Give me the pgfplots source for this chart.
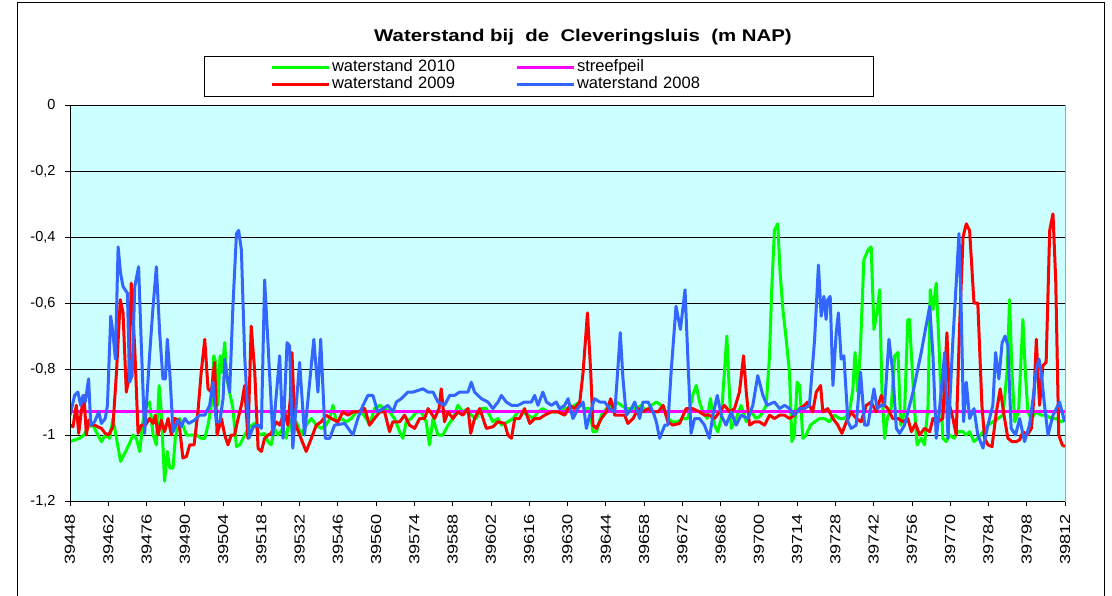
\documentclass[border=0pt]{standalone}
\usepackage{pgfplots}
\pgfplotsset{compat=1.18}
\usepackage{fontspec}
\setmainfont{Liberation Sans}
\definecolor{bgcyan}{HTML}{CCFFFF}
\definecolor{sgreen}{HTML}{00FF00}
\definecolor{sred}{HTML}{FF0000}
\definecolor{sblue}{HTML}{3366FF}
\definecolor{smag}{HTML}{FF00FF}
\begin{document}
\begin{tikzpicture}
\useasboundingbox (0pt,0pt) rectangle (1112pt,-596pt);
\fill[white] (0pt,0pt) rectangle (1112pt,-596pt);
\draw[black, line width=1pt] (17pt,-3pt) rectangle (1104pt,-620pt);
\node[font=\fontsize{17}{20}\selectfont\bfseries, xscale=1.2] at (583pt,-37pt) {Waterstand bij\ \ de\ \ Cleveringsluis\ \ (m NAP)};
\begin{axis}[
  at={(70pt,-501pt)}, anchor=south west,
  scale only axis, width=995pt, height=396pt,
  xmin=39448, xmax=39812, ymin=-1.2, ymax=0,
  axis background/.style={fill=bgcyan},
  axis line style={draw=gray!70, line width=1pt},
  xtick={39448,39462,...,39812},
  ytick={-1.2,-1,-0.8,-0.6,-0.4,-0.2,0},
  scaled x ticks=false,
  xtick pos=bottom, ytick pos=left,
  tick align=outside, major tick length=5pt,
  tick style={black, line width=0.8pt},
  ymajorgrids, grid style={black, line width=0.8pt},
  /pgf/number format/assume math mode=true,
  yticklabel style={font=\fontsize{14.5}{16}\selectfont, xshift=-6pt,
    /pgf/number format/.cd, fixed, precision=1, use comma, 1000 sep={}},
  xticklabel style={font=\fontsize{14.5}{16}\selectfont, yshift=-4pt, rotate=90, anchor=east, xscale=1.25,
    /pgf/number format/.cd, fixed, 1000 sep={}},
  legend columns=2,
  legend image code/.code={\draw[#1] (0pt,0pt) -- (57pt,0pt);},
  legend style={at={(0.4709,1.0732)}, anchor=center, draw=black, line width=0.8pt,
    font=\fontsize{16.5}{18}\selectfont, inner xsep=66pt, inner ysep=3pt,
    /tikz/column sep=0pt, row sep=0pt,
    nodes={inner xsep=2pt, inner ysep=0pt, text height=12pt, text depth=5pt, text width=181pt, align=left}},
  every axis plot/.append style={line width=3pt, line join=round},
]
\addplot[sgreen] table {
39448.0 -1.02
39449.7 -1.015
39451.5 -1.01
39453.1 -1.00
39454.6 -0.975
39456.4 -0.97
39458.2 -1.00
39459.5 -1.02
39460.9 -1.00
39462.5 -1.01
39463.7 -0.95
39465.0 -1.01
39466.5 -1.08
39468.0 -1.056
39469.8 -1.025
39471.0 -1.00
39472.3 -1.01
39473.5 -1.05
39474.7 -0.96
39475.9 -0.91
39477.1 -0.90
39478.4 -1.00
39479.6 -1.03
39480.6 -0.85
39481.4 -0.93
39482.6 -1.14
39483.6 -1.05
39484.5 -1.10
39485.7 -1.10
39486.5 -1.01
39488.1 -0.95
39489.3 -0.97
39490.6 -1.00
39492.4 -1.00
39494.2 -1.00
39496.0 -1.01
39497.3 -1.01
39498.5 -0.97
39499.7 -0.91
39500.6 -0.76
39501.3 -0.78
39502.1 -0.91
39502.9 -0.76
39503.6 -0.81
39504.6 -0.72
39505.4 -0.83
39506.4 -0.87
39507.6 -0.92
39508.9 -1.035
39510.1 -1.03
39511.9 -1.00
39513.7 -0.975
39515.6 -0.965
39517.4 -1.00
39519.2 -0.995
39520.4 -1.02
39521.6 -1.03
39522.8 -0.98
39524.1 -1.00
39525.9 -0.98
39527.1 -1.01
39528.3 -0.95
39529.5 -1.00
39530.8 -0.96
39532.6 -1.00
39534.4 -0.97
39536.3 -0.95
39538.1 -0.97
39539.9 -0.98
39541.7 -0.97
39543.0 -0.95
39544.2 -0.91
39545.4 -0.96
39547.2 -0.95
39549.1 -0.96
39550.9 -0.95
39552.7 -0.93
39554.5 -0.93
39556.4 -0.95
39557.6 -0.97
39559.4 -0.92
39561.3 -0.91
39563.1 -0.92
39564.9 -0.93
39566.7 -0.95
39568.6 -0.99
39569.8 -1.01
39571.0 -0.96
39572.8 -0.95
39574.7 -0.93
39576.5 -0.93
39578.3 -0.96
39579.5 -1.03
39580.8 -0.95
39582.6 -1.00
39584.4 -1.00
39586.3 -0.97
39588.1 -0.95
39589.9 -0.91
39591.7 -0.93
39593.6 -0.92
39594.8 -0.94
39596.6 -0.95
39598.5 -0.92
39600.3 -0.92
39602.7 -0.96
39604.6 -0.95
39605.8 -0.97
39608.2 -0.96
39610.1 -0.95
39611.9 -0.93
39613.7 -0.93
39615.6 -0.94
39617.4 -0.95
39619.2 -0.93
39621.0 -0.92
39622.9 -0.93
39624.7 -0.93
39626.5 -0.93
39629.0 -0.92
39630.8 -0.92
39632.6 -0.91
39634.5 -0.90
39636.3 -0.92
39638.1 -0.92
39639.3 -0.99
39640.6 -0.99
39642.4 -0.94
39644.2 -0.92
39646.0 -0.91
39647.9 -0.90
39649.7 -0.91
39651.5 -0.92
39653.4 -0.92
39655.2 -0.92
39657.0 -0.91
39658.8 -0.93
39660.7 -0.91
39662.5 -0.90
39664.3 -0.91
39666.7 -0.95
39668.5 -0.96
39670.4 -0.96
39672.2 -0.95
39674.0 -0.95
39675.8 -0.88
39677.1 -0.85
39678.3 -0.90
39679.5 -0.93
39681.1 -0.95
39682.3 -0.89
39683.8 -0.97
39685.0 -0.99
39686.2 -0.95
39687.4 -0.81
39688.3 -0.70
39689.0 -0.83
39689.9 -0.98
39691.7 -0.95
39693.5 -0.91
39695.4 -0.96
39697.2 -0.93
39699.0 -0.95
39700.8 -0.94
39702.7 -0.91
39703.9 -0.76
39704.7 -0.56
39705.7 -0.38
39706.9 -0.36
39707.8 -0.51
39708.8 -0.62
39710.0 -0.71
39711.2 -0.81
39712.1 -1.02
39713.0 -1.00
39714.0 -0.84
39714.9 -0.85
39716.1 -1.01
39717.3 -1.00
39718.9 -0.97
39720.4 -0.96
39722.2 -0.95
39724.0 -0.95
39725.8 -0.96
39727.7 -0.94
39729.5 -0.95
39731.3 -0.95
39733.2 -0.93
39734.4 -0.86
39735.2 -0.75
39736.2 -0.87
39737.2 -0.73
39738.4 -0.47
39739.9 -0.44
39741.1 -0.43
39742.1 -0.68
39743.2 -0.63
39744.2 -0.56
39745.0 -0.86
39746.0 -1.01
39747.0 -0.95
39748.4 -0.92
39749.7 -0.76
39750.9 -0.75
39751.9 -0.97
39753.3 -0.93
39754.5 -0.65
39755.1 -0.65
39756.7 -0.89
39757.9 -1.03
39759.4 -1.01
39760.6 -1.03
39761.9 -0.91
39762.7 -0.56
39763.7 -0.62
39764.9 -0.54
39765.8 -0.71
39767.3 -1.01
39768.6 -1.02
39769.8 -1.00
39771.4 -1.01
39772.8 -0.99
39774.7 -0.99
39775.9 -1.00
39777.1 -0.99
39778.7 -1.02
39780.1 -1.01
39782.0 -0.99
39783.8 -0.97
39785.6 -0.96
39787.5 -0.95
39789.3 -0.94
39790.9 -0.80
39791.7 -0.59
39792.6 -0.81
39793.6 -0.96
39795.0 -0.93
39796.6 -0.65
39797.5 -0.81
39798.4 -0.93
39799.7 -0.95
39801.5 -0.93
39803.3 -0.94
39805.1 -0.94
39807.0 -0.95
39808.8 -0.95
39810.6 -0.96
39811.9 -0.955
};
\addlegendentry{waterstand 2010}
\addplot[smag] coordinates {(39448,-0.93) (39812,-0.93)};
\addlegendentry[text width=228pt]{streefpeil}
\addplot[sred] table {
39448.0 -0.97
39449.1 -0.975
39450.3 -0.91
39451.2 -0.995
39452.1 -0.93
39453.1 -0.88
39454.0 -1.00
39454.8 -0.955
39455.8 -0.97
39457.0 -0.97
39458.2 -0.975
39459.5 -0.98
39460.9 -0.995
39462.1 -1.00
39463.7 -0.975
39465.0 -0.81
39466.4 -0.59
39467.4 -0.63
39468.6 -0.87
39469.5 -0.83
39470.4 -0.54
39471.7 -0.74
39472.9 -0.995
39474.1 -0.97
39475.6 -0.97
39477.1 -0.95
39478.4 -0.965
39479.2 -0.94
39480.2 -1.00
39481.4 -0.955
39482.6 -0.99
39483.9 -0.95
39485.1 -1.00
39486.3 -0.95
39487.8 -0.955
39489.3 -1.07
39490.6 -1.065
39491.8 -1.03
39493.4 -1.03
39494.8 -0.93
39496.0 -0.81
39497.3 -0.71
39498.5 -0.86
39499.7 -0.87
39500.9 -0.78
39501.8 -1.00
39503.4 -0.95
39504.6 -1.00
39505.8 -1.03
39507.0 -1.00
39508.2 -1.00
39509.5 -0.95
39510.7 -0.91
39511.9 -0.85
39513.1 -1.01
39514.3 -0.67
39515.6 -0.81
39516.8 -1.04
39518.0 -1.05
39519.2 -1.01
39520.4 -1.00
39521.6 -0.995
39523.4 -0.96
39524.7 -0.97
39526.5 -0.93
39527.7 -0.97
39528.6 -0.89
39529.2 -0.75
39530.2 -0.96
39532.0 -1.00
39534.4 -1.05
39536.3 -1.01
39538.1 -0.97
39539.9 -0.96
39541.7 -0.94
39543.6 -0.95
39546.0 -0.96
39547.8 -0.93
39549.7 -0.94
39551.5 -0.93
39553.3 -0.93
39555.8 -0.92
39557.6 -0.97
39559.4 -0.95
39561.3 -0.93
39563.1 -0.93
39564.9 -0.99
39566.1 -0.96
39568.6 -0.96
39570.4 -0.94
39572.2 -0.97
39574.1 -0.98
39575.9 -0.95
39577.7 -0.95
39579.0 -0.92
39581.4 -0.95
39583.0 -0.92
39583.8 -0.86
39585.0 -0.96
39586.3 -0.93
39588.1 -0.95
39589.9 -0.93
39591.7 -0.94
39593.6 -0.92
39594.6 -0.995
39596.0 -0.95
39597.9 -0.92
39600.3 -0.98
39602.7 -0.975
39604.6 -0.96
39607.0 -0.965
39608.2 -1.00
39609.5 -1.01
39610.7 -0.95
39612.5 -0.95
39614.3 -0.92
39616.2 -0.965
39618.0 -0.95
39619.8 -0.95
39621.6 -0.94
39624.1 -0.93
39626.5 -0.93
39629.0 -0.94
39630.8 -0.91
39632.6 -0.92
39634.5 -0.90
39635.7 -0.81
39637.3 -0.63
39638.5 -0.81
39639.3 -0.97
39640.6 -0.98
39642.4 -0.95
39644.2 -0.93
39645.8 -0.89
39647.3 -0.94
39649.1 -0.94
39650.9 -0.94
39652.1 -0.965
39654.0 -0.95
39655.8 -0.92
39657.6 -0.93
39659.5 -0.92
39661.3 -0.93
39663.1 -0.93
39665.0 -0.91
39666.7 -0.96
39668.5 -0.97
39671.0 -0.965
39673.4 -0.92
39675.8 -0.92
39678.3 -0.93
39680.1 -0.94
39681.9 -0.94
39683.8 -0.95
39685.6 -0.93
39687.4 -0.91
39689.3 -0.93
39691.1 -0.92
39692.9 -0.87
39694.4 -0.76
39695.4 -0.87
39696.6 -0.97
39698.4 -0.96
39700.2 -0.96
39702.1 -0.97
39703.9 -0.94
39705.7 -0.95
39707.6 -0.94
39709.4 -0.94
39711.2 -0.95
39713.0 -0.94
39714.9 -0.92
39716.7 -0.91
39717.9 -0.90
39719.7 -0.93
39721.0 -0.87
39722.6 -0.85
39723.4 -0.93
39725.2 -0.92
39727.1 -0.95
39728.9 -0.97
39730.4 -0.995
39732.0 -0.96
39733.8 -0.93
39735.6 -0.95
39737.4 -0.96
39739.3 -0.91
39741.1 -0.90
39742.9 -0.93
39744.8 -0.88
39746.0 -0.91
39747.2 -0.92
39749.0 -0.95
39750.9 -0.95
39752.7 -0.96
39754.5 -0.95
39755.8 -0.99
39757.3 -0.965
39758.8 -1.00
39760.6 -0.98
39762.5 -0.99
39763.7 -0.95
39765.5 -0.96
39767.3 -0.95
39768.8 -0.69
39769.8 -0.91
39771.0 -0.95
39772.2 -1.00
39773.4 -0.68
39774.7 -0.40
39775.9 -0.36
39777.1 -0.38
39778.7 -0.60
39780.1 -0.60
39781.6 -0.91
39782.6 -1.01
39783.8 -1.03
39785.3 -1.035
39786.9 -0.93
39788.3 -0.86
39789.5 -0.93
39791.1 -1.01
39792.6 -1.02
39794.2 -1.02
39795.4 -1.015
39796.6 -0.99
39798.2 -1.00
39799.7 -0.98
39800.6 -0.89
39801.5 -0.71
39802.7 -0.91
39803.9 -0.79
39805.1 -0.78
39806.4 -0.38
39807.6 -0.33
39808.6 -0.53
39809.7 -1.00
39811.0 -1.03
39812.0 -1.035
};
\addlegendentry{waterstand 2009}
\addplot[sblue] table {
39448.0 -0.94
39449.7 -0.88
39450.9 -0.87
39451.9 -0.91
39452.8 -0.88
39453.6 -0.90
39454.8 -0.83
39455.6 -0.97
39457.0 -0.96
39458.5 -0.93
39459.5 -0.965
39460.9 -0.95
39461.7 -0.91
39462.9 -0.64
39463.7 -0.69
39464.6 -0.77
39465.6 -0.43
39466.5 -0.51
39467.4 -0.55
39469.0 -0.57
39469.8 -0.84
39470.7 -0.82
39471.7 -0.55
39473.1 -0.49
39474.1 -0.73
39475.3 -0.995
39477.1 -0.76
39478.4 -0.61
39479.6 -0.49
39480.8 -0.69
39482.0 -0.83
39482.9 -0.83
39483.6 -0.71
39484.5 -0.81
39485.7 -0.99
39487.5 -0.955
39488.7 -0.975
39490.0 -0.95
39491.4 -0.965
39493.6 -0.955
39495.4 -0.94
39497.3 -0.94
39499.1 -0.91
39500.3 -0.84
39501.5 -0.96
39502.8 -0.96
39504.0 -0.89
39504.6 -0.77
39505.2 -0.81
39506.4 -0.87
39507.6 -0.61
39508.9 -0.39
39509.7 -0.38
39510.7 -0.44
39511.9 -0.76
39513.5 -1.01
39515.0 -0.975
39516.8 -0.97
39518.0 -0.98
39519.2 -0.53
39522.2 -1.00
39524.7 -0.76
39525.9 -1.01
39527.4 -0.72
39528.3 -0.73
39529.5 -1.04
39532.0 -0.78
39533.8 -1.00
39537.2 -0.71
39538.7 -0.87
39539.7 -0.71
39541.4 -1.01
39543.0 -1.01
39544.8 -0.97
39548.5 -0.965
39551.5 -1.00
39553.3 -0.95
39555.2 -0.91
39557.0 -0.88
39558.8 -0.88
39560.6 -0.93
39562.5 -0.92
39564.3 -0.91
39566.1 -0.93
39567.4 -0.90
39569.2 -0.89
39571.6 -0.87
39573.5 -0.87
39577.1 -0.86
39579.0 -0.87
39580.8 -0.87
39582.6 -0.90
39585.0 -0.91
39586.9 -0.88
39588.7 -0.88
39590.5 -0.87
39593.6 -0.87
39594.8 -0.84
39596.0 -0.87
39598.5 -0.89
39600.9 -0.90
39602.7 -0.92
39604.6 -0.90
39605.8 -0.88
39607.6 -0.90
39609.5 -0.91
39611.9 -0.91
39614.3 -0.90
39616.8 -0.90
39618.0 -0.88
39619.2 -0.91
39621.0 -0.87
39622.3 -0.90
39624.1 -0.91
39625.9 -0.90
39627.1 -0.92
39629.0 -0.91
39630.2 -0.89
39632.0 -0.95
39633.8 -0.92
39635.7 -0.90
39636.9 -0.98
39638.1 -0.94
39639.9 -0.89
39641.8 -0.90
39643.6 -0.90
39645.4 -0.92
39647.3 -0.93
39648.5 -0.79
39649.3 -0.69
39650.3 -0.83
39651.5 -0.94
39653.4 -0.92
39654.6 -0.90
39656.4 -0.95
39657.6 -0.90
39659.5 -0.90
39661.3 -0.93
39662.5 -0.96
39663.7 -1.01
39665.6 -0.97
39666.7 -0.97
39667.9 -0.81
39669.7 -0.61
39671.3 -0.68
39673.0 -0.56
39674.0 -0.76
39675.2 -0.995
39676.5 -0.95
39678.3 -0.95
39680.1 -0.97
39681.9 -1.01
39683.2 -0.94
39684.8 -0.88
39686.2 -0.94
39688.0 -0.97
39689.9 -0.93
39691.7 -0.97
39693.5 -0.94
39696.0 -0.95
39697.8 -0.91
39699.6 -0.82
39701.5 -0.88
39703.0 -0.91
39705.7 -0.90
39707.6 -0.92
39709.4 -0.91
39711.2 -0.92
39713.0 -0.94
39714.9 -0.92
39716.7 -0.92
39718.5 -0.91
39720.4 -0.71
39721.8 -0.485
39722.8 -0.64
39723.8 -0.58
39724.6 -0.65
39725.2 -0.59
39726.1 -0.58
39727.1 -0.85
39728.3 -0.69
39729.1 -0.63
39730.1 -0.77
39731.1 -0.76
39732.6 -0.96
39733.8 -0.98
39735.6 -0.97
39737.2 -0.81
39738.7 -0.97
39739.9 -0.97
39742.1 -0.86
39743.3 -0.92
39744.8 -0.91
39746.0 -0.91
39747.6 -0.71
39749.0 -0.81
39750.3 -0.98
39751.5 -0.995
39753.3 -0.97
39756.4 -0.87
39759.4 -0.75
39762.5 -0.61
39763.7 -0.76
39764.9 -1.01
39766.1 -0.92
39768.0 -0.75
39769.2 -1.01
39771.0 -0.71
39772.2 -0.54
39773.2 -0.39
39774.0 -0.61
39774.9 -0.96
39775.9 -0.84
39777.1 -0.95
39778.7 -0.92
39780.1 -1.00
39782.0 -1.04
39783.8 -0.97
39785.6 -0.91
39786.6 -0.75
39787.8 -0.83
39789.0 -0.72
39790.1 -0.70
39791.1 -0.73
39792.3 -0.98
39793.9 -1.00
39795.4 -0.95
39797.2 -1.02
39799.0 -0.97
39800.3 -0.89
39801.5 -0.80
39802.5 -0.77
39803.3 -0.81
39804.5 -0.91
39805.8 -1.00
39807.6 -0.94
39810.0 -0.90
39811.9 -0.96
};
\addlegendentry[text width=228pt]{waterstand 2008}
\draw[black, line width=1pt] (rel axis cs:0,0) -- (rel axis cs:0,1);
\draw[black, line width=1pt] (rel axis cs:0,0) -- (rel axis cs:1,0);
\draw[black, line width=0.8pt] (rel axis cs:0,1) -- (rel axis cs:1,1);
\end{axis}
\end{tikzpicture}
\end{document}
